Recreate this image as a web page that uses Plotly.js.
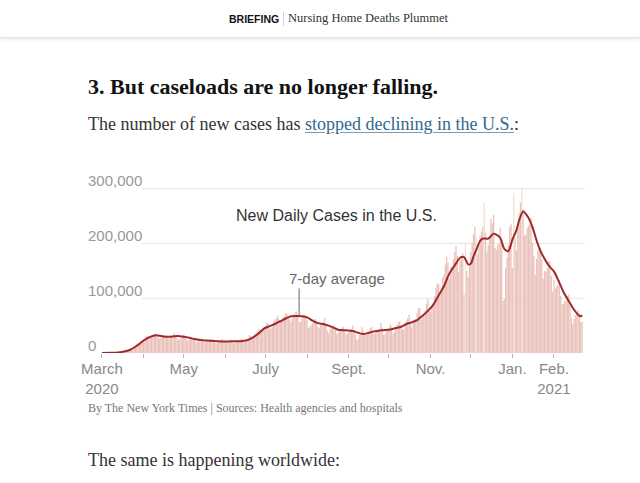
<!DOCTYPE html>
<html>
<head>
<meta charset="utf-8">
<script src="https://cdn.plot.ly/plotly-3.0.1.min.js"></script>
<style>
  body { margin: 0; background: #fff; }
  #page { position: relative; width: 640px; height: 483px; overflow: hidden; background: #fff; }
  #topbar { position: absolute; left: 0; top: 0; width: 640px; height: 37px; border-bottom: 1px solid #e4e4e4; box-shadow: 0 2px 3px rgba(0,0,0,0.07); background: #fff; }
  #kicker { position: absolute; left: 229px; top: 13px; font: bold 10.5px "Liberation Sans", sans-serif; color: #121212; }
  #sep { position: absolute; left: 283px; top: 12px; width: 1px; height: 14px; background: #d0d0d0; }
  #story { position: absolute; left: 288px; top: 11px; font: 12.5px "Liberation Serif", serif; color: #333; }
  #headline { position: absolute; left: 88px; top: 74px; font: bold 22px "Liberation Serif", serif; color: #121212; white-space: nowrap; }
  #dek { position: absolute; left: 88px; top: 114px; font: 18px "Liberation Serif", serif; color: #333; white-space: nowrap; }
  #dek a { color: #326891; text-decoration: underline; text-decoration-color: #7d9cb8; text-underline-offset: 2px; }
  #credit { position: absolute; left: 88px; top: 401px; font: 12px "Liberation Serif", serif; color: #777; white-space: nowrap; }
  #next { position: absolute; left: 88px; top: 450px; font: 18px "Liberation Serif", serif; color: #333; white-space: nowrap; }
  #chart { position: absolute; left: 0; top: 0; width: 640px; height: 483px; }
</style>
</head>
<body>
<div id="page">
  <div id="topbar">
    <span id="kicker">BRIEFING</span>
    <span id="sep"></span>
    <span id="story">Nursing Home Deaths Plummet</span>
  </div>
  <div id="headline">3. But caseloads are no longer falling.</div>
  <div id="dek">The number of new cases has <a>stopped declining in the U.S.</a>:</div>
  <div id="chart"></div>
  <div id="credit">By The New York Times | Sources: Health agencies and hospitals</div>
  <div id="next">The same is happening worldwide:</div>
</div>
<script>
// New daily cases in the U.S., thousands, one value per day from March 1, 2020
const firstDay = '2020-03-01';
const dailyCasesK = [
  0.01, 0.01, 0.02, 0.03, 0.05, 0.08, 0.1,
  0.15, 0.2, 0.3, 0.4, 0.5, 0.6, 0.7,
  0.8, 1.0, 1.5, 2.2, 3.5, 4.5, 5.5,
  6.5, 7.5, 9.0, 11.0, 14.0, 16.0, 17.5,
  18.0, 19.5, 23.0, 24.5, 27.0, 30.0, 31.5,
  27.0, 29.0, 30.0, 32.0, 34.5, 35.0, 31.0,
  28.0, 26.0, 28.0, 29.0, 31.0, 33.0, 32.0,
  27.0, 26.0, 28.0, 29.5, 33.0, 36.0, 33.0,
  27.0, 23.5, 26.0, 28.5, 31.0, 34.0, 29.0,
  26.0, 22.5, 24.0, 26.0, 28.5, 27.5, 25.0,
  20.0, 19.5, 22.5, 21.5, 27.0, 26.0, 24.0,
  19.0, 21.5, 20.5, 22.0, 26.0, 24.0, 22.0,
  19.5, 18.0, 18.0, 20.5, 23.0, 24.5, 25.0,
  20.0, 21.0, 20.0, 21.5, 22.0, 24.5, 22.5,
  17.5, 18.5, 19.0, 21.0, 22.5, 24.0, 26.5,
  19.5, 19.0, 23.0, 25.0, 28.0, 32.5, 31.0,
  27.0, 30.5, 35.0, 37.5, 40.5, 44.5, 42.0,
  40.5, 41.0, 46.0, 50.0, 55.0, 54.0, 44.0,
  46.0, 48.0, 58.0, 61.0, 63.0, 68.0, 61.0,
  58.0, 58.0, 64.0, 67.0, 73.0, 71.0, 64.0,
  61.0, 57.0, 63.0, 70.0, 74.0, 76.0, 66.0,
  57.0, 57.0, 62.0, 70.0, 69.0, 67.0, 60.0,
  46.0, 48.0, 52.0, 55.0, 58.0, 62.0, 56.0,
  48.0, 46.0, 51.0, 53.0, 56.0, 64.0, 53.0,
  41.0, 36.0, 44.0, 46.0, 48.0, 51.0, 46.0,
  35.0, 36.0, 41.0, 44.0, 46.0, 48.0, 43.0,
  34.0, 35.0, 39.0, 40.0, 44.0, 50.0, 41.0,
  33.0, 24.0, 26.0, 33.0, 36.0, 47.0, 40.0,
  33.0, 33.0, 38.0, 39.0, 45.0, 48.0, 41.0,
  34.0, 38.0, 39.0, 39.0, 44.0, 55.0, 46.0,
  33.0, 34.0, 42.0, 40.0, 45.0, 53.0, 48.0,
  35.0, 39.0, 44.0, 51.0, 56.0, 58.0, 50.0,
  44.0, 42.0, 53.0, 59.0, 64.0, 70.0, 56.0,
  48.0, 59.0, 61.0, 62.0, 73.0, 82.0, 82.0,
  61.0, 66.0, 72.0, 77.0, 90.0, 98.0, 82.0,
  75.0, 84.0, 90.0, 104.0, 119.0, 127.0, 126.0,
  108.0, 120.0, 138.0, 143.0, 161.0, 176.0, 165.0,
  136.0, 157.0, 158.0, 171.0, 185.0, 196.0, 177.0,
  148.0, 170.0, 174.0, 182.0, 107.0, 202.0, 150.0,
  139.0, 162.0, 184.0, 201.0, 217.0, 230.0, 212.0,
  180.0, 195.0, 214.0, 222.0, 231.0, 275.0, 220.0,
  185.0, 197.0, 208.0, 245.0, 237.0, 252.0, 192.0,
  188.0, 198.0, 201.0, 229.0, 199.0, 95.0, 98.0,
  155.0, 175.0, 197.0, 230.0, 236.0, 155.0, 292.0,
  210.0, 187.0, 235.0, 255.0, 275.0, 300.0, 262.0,
  214.0, 216.0, 228.0, 232.0, 236.0, 247.0, 201.0,
  177.0, 143.0, 172.0, 187.0, 195.0, 192.0, 171.0,
  135.0, 150.0, 149.0, 155.0, 168.0, 167.0, 141.0,
  112.0, 134.0, 118.0, 122.0, 125.0, 134.0, 104.0,
  88.0, 90.0, 95.0, 96.0, 104.0, 107.0, 86.0,
  64.0, 53.0, 62.0, 69.0, 71.0, 79.0, 71.0,
  56.0, 57.0
];
// days with backlogged reports, drawn paler
const flaggedDays = ['2020-11-27', '2020-12-05', '2020-12-11', '2021-01-02', '2021-01-08'];

// 7-day average, thousands
const avgDates = [
  '2020-03-01', '2020-03-08', '2020-03-13', '2020-03-16', '2020-03-19', '2020-03-22',
  '2020-03-25', '2020-03-28', '2020-03-31', '2020-04-03', '2020-04-06', '2020-04-09',
  '2020-04-12', '2020-04-16', '2020-04-20', '2020-04-24', '2020-04-27', '2020-05-01',
  '2020-05-05', '2020-05-09', '2020-05-14', '2020-05-20', '2020-05-26', '2020-06-01',
  '2020-06-08', '2020-06-14', '2020-06-18', '2020-06-22', '2020-06-26', '2020-06-30',
  '2020-07-04', '2020-07-08', '2020-07-12', '2020-07-16', '2020-07-20', '2020-07-24',
  '2020-07-28', '2020-08-01', '2020-08-05', '2020-08-09', '2020-08-13', '2020-08-17',
  '2020-08-21', '2020-08-24', '2020-08-30', '2020-09-04', '2020-09-08', '2020-09-12',
  '2020-09-16', '2020-09-20', '2020-09-26', '2020-10-02', '2020-10-06', '2020-10-10',
  '2020-10-14', '2020-10-18', '2020-10-22', '2020-10-26', '2020-10-30', '2020-11-03',
  '2020-11-07', '2020-11-11', '2020-11-15', '2020-11-19', '2020-11-23', '2020-11-26',
  '2020-11-29', '2020-12-01', '2020-12-03', '2020-12-05', '2020-12-08', '2020-12-10',
  '2020-12-14', '2020-12-18', '2020-12-20', '2020-12-23', '2020-12-26', '2020-12-29',
  '2021-01-01', '2021-01-04', '2021-01-06', '2021-01-09', '2021-01-11', '2021-01-13',
  '2021-01-16', '2021-01-19', '2021-01-22', '2021-01-25', '2021-01-28', '2021-02-01',
  '2021-02-04', '2021-02-08', '2021-02-12', '2021-02-16', '2021-02-19', '2021-02-21',
  '2021-02-22'
];
const avgCasesK = [
  0, 0.3, 0.8, 1.8, 3.5, 6,
  10, 15, 21, 26, 29.5, 32,
  32, 30, 29.5, 30.5, 31, 29.5,
  28, 25.5, 23.5, 22.5, 21.5, 21,
  21.5, 22, 24, 29, 36, 45,
  49, 53, 58, 63, 67, 67.5,
  67, 65, 59, 54.5, 53, 50,
  46, 42.5, 41.5, 40, 37, 34.5,
  37, 39.5, 41.5, 43, 45.5, 48,
  53, 56, 60, 68, 77, 88,
  105, 122, 145, 160, 174, 175,
  162, 163, 176, 188, 205, 209,
  209, 218, 216, 210, 190, 186,
  207, 224, 242, 259, 254, 247,
  230, 206, 186, 172, 160, 149,
  134, 112, 95, 79, 70, 67,
  69
];

const monthTicks = ['2020-03-01', '2020-04-01', '2020-05-01', '2020-06-01', '2020-07-01', '2020-08-01',
  '2020-09-01', '2020-10-01', '2020-11-01', '2020-12-01', '2021-01-01', '2021-02-01'];
const monthLabels = ['March<br>2020', '', 'May', '', 'July', '', 'Sept.', '', 'Nov.', '', 'Jan.', 'Feb.<br>2021'];
const yTicks = [0, 100000, 200000, 300000];

const DAY = 86400000;
const startMs = Date.parse(firstDay + 'T00:00:00Z');
const barColors = dailyCasesK.map((v, i) => {
  const d = new Date(startMs + i * DAY).toISOString().slice(0, 10);
  return flaggedDays.includes(d) ? '#f3e0d0' : '#eac2bb';
});

const bars = {
  type: 'bar',
  x0: firstDay,
  dx: DAY,
  y: dailyCasesK.map(v => v * 1000),
  marker: { color: barColors, line: { width: 0 } },
  hoverinfo: 'skip'
};

const avgLine = {
  type: 'scatter',
  mode: 'lines',
  x: avgDates,
  y: avgCasesK.map(v => v * 1000),
  line: { color: '#9e2a2b', width: 2, shape: 'spline', smoothing: 0.7 },
  hoverinfo: 'skip'
};

const gridShapes = yTicks.filter(v => v > 0).map(v => ({
  type: 'line', xref: 'paper', x0: 0.1158, x1: 1, yref: 'y', y0: v, y1: v,
  line: { color: '#e6e6e6', width: 1 }, layer: 'below'
}));

const layout = {
  width: 640,
  height: 483,
  margin: { l: 84, r: 55, t: 185.6, b: 130.3 },
  paper_bgcolor: 'rgba(0,0,0,0)',
  plot_bgcolor: 'rgba(0,0,0,0)',
  showlegend: false,
  bargap: 0.05,
  font: { family: 'Liberation Sans, Arial, sans-serif', color: '#888' },
  xaxis: {
    type: 'date',
    domain: [0.0345, 1],
    range: ['2020-02-29 12:00', '2021-02-24 03:36'],
    tickvals: monthTicks,
    ticktext: monthLabels,
    ticks: 'outside',
    ticklen: 4,
    tickcolor: '#b5b5b5',
    showgrid: false,
    zeroline: false,
    showline: false,
    tickfont: { size: 15, color: '#888' },
    ticklabelstandoff: -2
  },
  yaxis: {
    range: [0, 305000],
    anchor: 'free',
    position: 0,
    tickvals: yTicks,
    tickformat: ',',
    ticklabelposition: 'inside top',
    ticklabeloverflow: 'allow',
    ticklabelshift: 3,
    showgrid: false,
    zeroline: false,
    showline: false,
    ticks: '',
    tickfont: { size: 15, color: '#999' }
  },
  shapes: gridShapes.concat([{
    type: 'line', xref: 'x', yref: 'y',
    x0: '2020-07-26', x1: '2020-07-26', y0: 68000, y1: 118000,
    line: { color: '#666', width: 1 }
  }]),
  annotations: [
    {
      x: '2020-08-22 12:00', y: 251000, xref: 'x', yref: 'y',
      text: 'New Daily Cases in the U.S.', showarrow: false,
      font: { size: 16, color: '#333' }, xanchor: 'center', yanchor: 'middle'
    },
    {
      x: '2020-08-23', y: 136000, xref: 'x', yref: 'y',
      text: '7-day average', showarrow: false,
      font: { size: 15, color: '#666' }, xanchor: 'center', yanchor: 'middle'
    }
  ]
};

Plotly.newPlot('chart', [bars, avgLine], layout, { staticPlot: true, displayModeBar: false });
</script>
</body>
</html>
